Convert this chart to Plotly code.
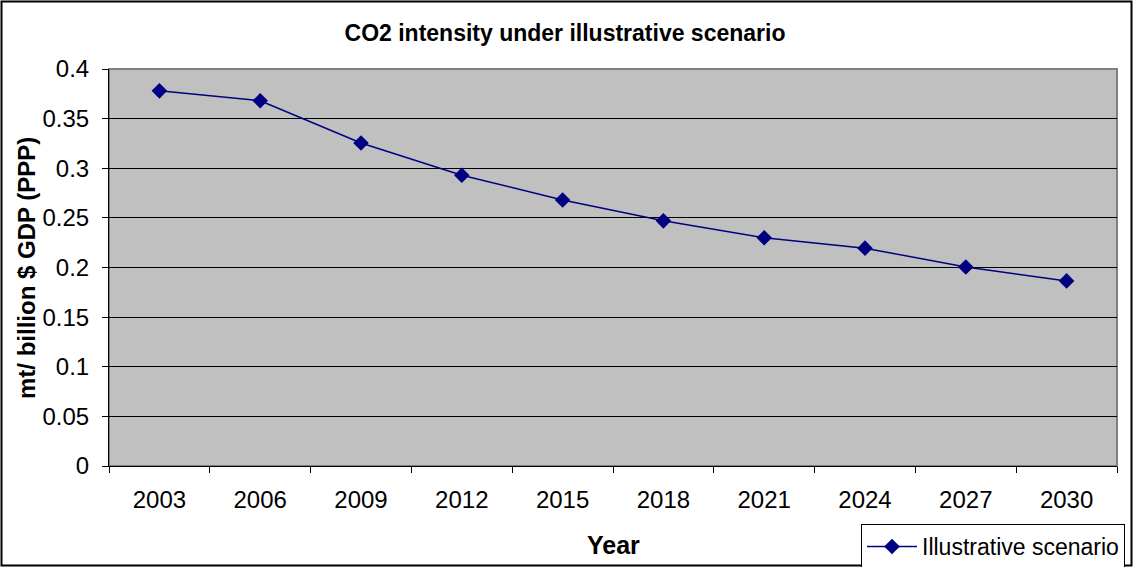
import plotly.graph_objects as go

years = ["2003", "2006", "2009", "2012", "2015", "2018", "2021", "2024", "2027", "2030"]
intensity = [0.378, 0.368, 0.3255, 0.293, 0.268, 0.247, 0.230, 0.2195, 0.2005, 0.1865]
y_ticks = [0, 0.05, 0.1, 0.15, 0.2, 0.25, 0.3, 0.35, 0.4]
y_tick_text = ["0", "0.05", "0.1", "0.15", "0.2", "0.25", "0.3", "0.35", "0.4"]

W, H = 1133, 567
FONT = "Liberation Sans, Arial, sans-serif"

fig = go.Figure()
fig.add_trace(go.Scatter(
    x=years, y=intensity, mode="lines+markers", name="Illustrative scenario",
    line=dict(color="#000080", width=1.5),
    marker=dict(symbol="diamond", size=12, color="#000080"),
))

fig.update_layout(
    width=W, height=H,
    margin=dict(l=0, r=0, t=0, b=0, autoexpand=False),
    paper_bgcolor="white",
    plot_bgcolor="#C0C0C0",
    font=dict(family=FONT, color="black", size=24),
    title=dict(text="<b>CO2 intensity under illustrative scenario</b>",
               x=565 / W, xanchor="center", y=1 - 33 / H, yanchor="middle",
               font=dict(size=23), automargin=False),
    xaxis=dict(
        domain=[109 / W, 1117 / W], type="category", range=[-0.5, 9.5],
        tickson="boundaries", ticks="outside", ticklen=6, tickcolor="black",
        showgrid=False, showline=True, linecolor="black", linewidth=1,
        ticklabelstandoff=12, automargin=False,
    ),
    yaxis=dict(
        domain=[101 / H, 498 / H], range=[0, 0.4],
        tickvals=y_ticks, ticktext=y_tick_text,
        ticks="outside", ticklen=6, tickcolor="black",
        showgrid=True, gridcolor="black", gridwidth=1,
        showline=True, linecolor="black", linewidth=1,
        zeroline=False, ticklabelstandoff=8, automargin=False,
    ),
    annotations=[
        dict(text="<b>Year</b>", xref="paper", yref="paper",
             x=613 / W, y=1 - 545 / H, xanchor="center", yanchor="middle",
             showarrow=False, font=dict(size=25)),
        dict(text="<b>mt/ billion $ GDP (PPP)</b>", xref="paper", yref="paper",
             x=26 / W, y=1 - 268 / H, xanchor="center", yanchor="middle",
             textangle=-90, showarrow=False, font=dict(size=24)),
    ],
    showlegend=True,
    legend=dict(x=861 / W, y=1 - 524 / H, xanchor="left", yanchor="top",
                bgcolor="white", bordercolor="black", borderwidth=1,
                font=dict(size=23), tracegroupgap=0,
                itemwidth=50),
    shapes=[
        # plot-area frame (top and right edges in gray)
        dict(type="rect", xref="paper", yref="paper",
             x0=109 / W, x1=1117 / W, y0=101 / H, y1=498 / H,
             line=dict(color="#808080", width=2), layer="below"),
        # outer chart border
        dict(type="rect", xref="paper", yref="paper",
             x0=1.5 / W, x1=1 - 1.5 / W, y0=1.5 / H, y1=1 - 1.5 / H,
             line=dict(color="black", width=2)),
    ],
)

fig.write_html("out.html")
